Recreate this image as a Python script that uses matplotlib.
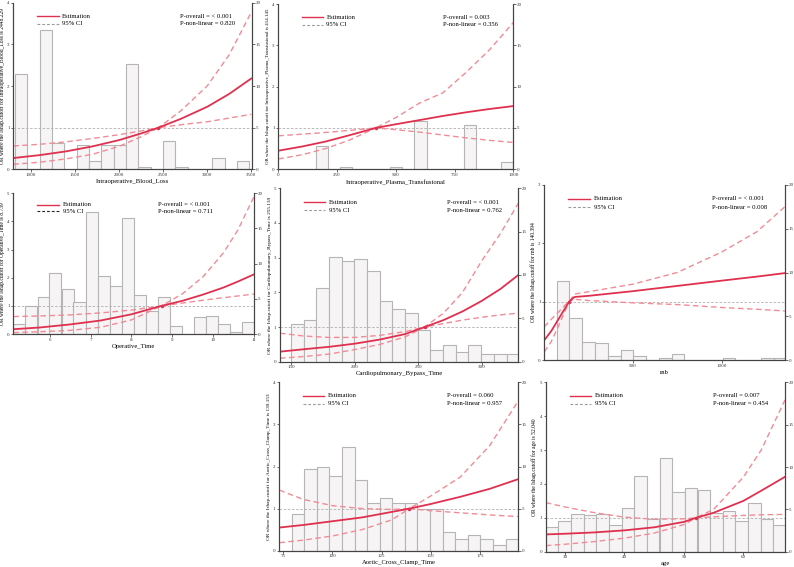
import matplotlib
matplotlib.use("Agg")
import matplotlib.pyplot as plt

plt.rcParams['font.family'] = ['Liberation Serif', 'DejaVu Serif']

# ---- Intraoperative_Blood_Loss ----
blood_bins = [890, 1170, 1310, 1590, 1730, 1870, 2010, 2150, 2290, 2570, 2710, 3130, 3410]
blood_counts = [11.4, 16.7, 3.2, 2.9, 1.0, 2.9, 2.9, 12.6, 0.3, 3.4, 0.3, 1.3, 1.0]
blood_x = [803, 1100, 1400, 1700, 2000, 2250, 2448.229, 2700, 3000, 3250, 3500]
blood_est = [0.27, 0.34, 0.43, 0.55, 0.70, 0.86, 1.0, 1.21, 1.50, 1.81, 2.18]
blood_lo = [0.12, 0.17, 0.25, 0.36, 0.55, 0.78, 1.0, 1.07, 1.14, 1.23, 1.32]
blood_hi = [0.56, 0.60, 0.66, 0.74, 0.83, 0.92, 1.0, 1.4, 2.0, 2.75, 3.77]

# ---- Intraoperative_Plasma_Transfusional ----
plasma_bins = [185, 289, 500, 605, 815, 974]
plasma_counts = [2.8, 0.25, 0.25, 5.9, 5.4, 0.9]
plasma_x = [0, 100, 200, 300, 414.145, 500, 600, 700, 800, 900, 1000]
plasma_est = [0.45, 0.55, 0.67, 0.82, 1.0, 1.09, 1.19, 1.29, 1.38, 1.46, 1.53]
plasma_lo = [0.25, 0.35, 0.50, 0.70, 1.0, 0.96, 0.90, 0.83, 0.76, 0.70, 0.65]
plasma_hi = [0.81, 0.85, 0.89, 0.94, 1.0, 1.25, 1.6, 1.85, 2.35, 2.9, 3.55]

# ---- Operative_Time ----
optime_bins = [5.26, 5.55, 5.85, 6.14, 6.44, 6.73, 7.03, 7.32, 7.62, 7.91,
               8.20, 8.50, 8.79, 9.09, 9.38, 9.68, 9.97, 10.27, 10.56, 10.86]
optime_counts = [1.4, 4.0, 5.2, 8.7, 6.4, 4.6, 17.3, 8.2, 6.8, 16.5,
                 5.5, 3.2, 5.3, 1.2, 0.0, 2.4, 2.6, 1.4, 0.3, 1.7]
optime_x = [5.11, 5.75, 6.5, 7.25, 8.0, 8.739, 9.25, 9.75, 10.25, 10.6, 11.0]
optime_est = [0.17, 0.23, 0.34, 0.48, 0.70, 1.0, 1.18, 1.40, 1.65, 1.86, 2.12]
optime_lo = [0.05, 0.08, 0.13, 0.24, 0.50, 1.0, 1.10, 1.20, 1.29, 1.35, 1.42]
optime_hi = [0.62, 0.64, 0.68, 0.75, 0.85, 1.0, 1.43, 2.03, 2.88, 3.68, 4.88]

# ---- Cardiopulmonary_Bypass_Time ----
cpb_bins = [154.7, 164.7, 174.7, 184.7, 194.7, 204.7, 214.7, 224.7, 234.7,
            244.7, 254.7, 264.7, 274.7, 284.7, 294.7, 304.7, 314.7, 324.7]
cpb_counts = [4.3, 4.8, 8.5, 12.1, 11.6, 11.8, 10.5, 7.0, 6.1,
              5.6, 3.7, 1.4, 1.9, 1.1, 1.9, 0.9, 0.9, 0.9]
cpb_x = [141, 160, 180, 200, 220, 240, 255.139, 270, 285, 300, 315, 329]
cpb_est = [0.29, 0.36, 0.43, 0.52, 0.64, 0.80, 1.0, 1.2, 1.45, 1.75, 2.1, 2.5]
cpb_lo = [0.10, 0.15, 0.22, 0.35, 0.50, 0.72, 1.0, 1.1, 1.2, 1.28, 1.35, 1.4]
cpb_hi = [0.82, 0.74, 0.70, 0.70, 0.76, 0.87, 1.0, 1.4, 2.0, 2.9, 3.7, 4.57]

# ---- rnb ----
rnb_bins = [106, 178, 250, 322, 394, 466, 538, 682, 754, 1042, 1258, 1330]
rnb_counts = [9.0, 4.8, 2.1, 1.9, 0.5, 1.1, 0.5, 0.2, 0.7, 0.2, 0.2, 0.2]
rnb_x = [0, 40, 80, 120, 140.394, 170, 250, 500, 750, 1000, 1200, 1358]
rnb_est = [0.34, 0.50, 0.70, 0.90, 1.0, 1.08, 1.10, 1.18, 1.27, 1.36, 1.43, 1.49]
rnb_lo = [0.14, 0.32, 0.58, 0.86, 1.0, 1.04, 1.02, 0.98, 0.95, 0.90, 0.87, 0.84]
rnb_hi = [0.57, 0.70, 0.82, 0.95, 1.0, 1.13, 1.17, 1.30, 1.50, 1.85, 2.2, 2.63]

# ---- Aortic_Cross_Clamp_Time ----
acc_bins = [82.4, 88.8, 95.2, 101.6, 108.0, 114.4, 120.8, 127.2, 133.6,
            140.0, 146.4, 152.8, 159.2, 165.6, 172.0, 178.4, 184.8, 191.2]
acc_counts = [4.3, 9.7, 9.9, 8.9, 12.3, 8.4, 5.7, 6.2, 5.7,
              5.7, 4.9, 4.9, 2.2, 1.4, 1.9, 1.4, 0.7, 1.4]
acc_x = [73, 85, 100, 115, 130, 139.153, 150, 165, 180, 194.5]
acc_est = [0.55, 0.61, 0.70, 0.79, 0.92, 1.0, 1.11, 1.28, 1.47, 1.7]
acc_lo = [0.19, 0.25, 0.35, 0.50, 0.73, 1.0, 0.95, 0.90, 0.85, 0.81]
acc_hi = [1.44, 1.22, 1.07, 1.0, 0.98, 1.0, 1.3, 1.75, 2.5, 3.56]

# ---- age ----
age_bins = [27.8, 29.9, 32.1, 34.2, 36.3, 38.5, 40.6, 42.7, 44.8, 47.0,
            49.1, 51.2, 53.4, 55.5, 57.6, 59.7, 61.9, 64.0, 66.1]
age_counts = [2.9, 3.6, 4.5, 4.3, 4.5, 3.1, 5.2, 8.9, 3.9, 11.1,
              7.0, 7.5, 7.3, 4.6, 4.8, 3.6, 5.8, 3.9, 3.1]
age_x = [26.75, 30, 35, 40, 45, 50, 52.04, 55, 60, 63, 67]
age_est = [0.51, 0.53, 0.57, 0.63, 0.72, 0.88, 1.0, 1.15, 1.5, 1.8, 2.21]
age_lo = [0.18, 0.22, 0.30, 0.40, 0.55, 0.80, 1.0, 1.03, 1.07, 1.09, 1.1]
age_hi = [1.45, 1.32, 1.15, 1.02, 0.96, 0.97, 1.0, 1.25, 2.2, 3.0, 4.48]

RED = '#e0304f'
PINK = '#f28b96'
W, H = 794, 567

fig = plt.figure(figsize=(7.94, 5.67), dpi=100)


def draw_panel(box, bins, counts, bw, xs, est, lo, hi, name, cutoff,
               xlim, xticks, ymax, p1, p2, p_x=0.70, ci_key='#9a9a9a', ylab_size=4.0):
    x0, y0, x1, y1 = box
    ax = fig.add_axes([x0 / W, 1 - y1 / H, (x1 - x0) / W, (y1 - y0) / H])
    ax2 = ax.twinx()
    ax2.bar(bins, counts, width=bw, color='#f7f4f5', edgecolor='#b5b5b5', linewidth=0.8)
    ax2.set_ylim(0, 20)
    ax2.set_yticks([0, 5, 10, 15, 20])
    ax.set_zorder(ax2.get_zorder() + 1)
    ax.patch.set_visible(False)

    ax.axhline(1, color='#b0b0b0', ls='--', lw=0.6, dashes=(3, 2))
    ax.plot(xs, lo, color=PINK, ls='--', lw=1.0, dashes=(4, 2.5))
    ax.plot(xs, hi, color=PINK, ls='--', lw=1.0, dashes=(4, 2.5))
    ax.plot(xs, est, color=RED, lw=1.3)
    ax.plot([float(cutoff)], [1], 'o', color=RED, ms=1.5)

    ax.set_xlim(*xlim)
    ax.set_xticks(xticks)
    ax.set_ylim(0, ymax)
    ax.set_yticks(range(ymax + 1))
    ax.set_xlabel(name, fontsize=4.8, labelpad=1.5)
    ax.set_ylabel(f"OR where the Ishap.cutoff for {name} is {cutoff}", fontsize=ylab_size, labelpad=1.5)

    for a in (ax, ax2):
        a.tick_params(labelsize=3.6, length=1.8, width=0.5, pad=0.8, colors='#333333')
        a.spines['top'].set_visible(False)
        for s in ('left', 'right', 'bottom'):
            a.spines[s].set_color('#444444')
            a.spines[s].set_linewidth(0.8)

    # legend and p-values
    ax.plot([0.10, 0.19], [0.92, 0.92], color=RED, lw=1.0, transform=ax.transAxes, clip_on=False)
    ax.plot([0.10, 0.19], [0.873, 0.873], color=ci_key, lw=0.8, ls='--', dashes=(2.5, 1.8),
            transform=ax.transAxes, clip_on=False)
    ax.text(0.205, 0.92, "Estimation", fontsize=4.8, va='center', transform=ax.transAxes)
    ax.text(0.205, 0.873, "95% CI", fontsize=4.8, va='center', transform=ax.transAxes)
    ax.text(p_x, 0.92, f"P-overall = {p1}", fontsize=4.8, va='center', transform=ax.transAxes)
    ax.text(p_x, 0.873, f"P-non-linear = {p2}", fontsize=4.8, va='center', transform=ax.transAxes)


draw_panel((13.3, 2.7, 251.7, 169.3), blood_bins, blood_counts, 140,
           blood_x, blood_est, blood_lo, blood_hi, "Intraoperative_Blood_Loss", "2448.229",
           (803, 3505), [1000, 1500, 2000, 2500, 3000, 3500], 4, "< 0.001", "0.820")
draw_panel((278.3, 4, 513.3, 169.3), plasma_bins, plasma_counts, 53,
           plasma_x, plasma_est, plasma_lo, plasma_hi, "Intraoperative_Plasma_Transfusional", "414.145",
           (0, 1000), [0, 250, 500, 750, 1000], 4, "0.003", "0.356", ylab_size=3.5)
draw_panel((13.3, 193.3, 254, 334), optime_bins, optime_counts, 0.2946,
           optime_x, optime_est, optime_lo, optime_hi, "Operative_Time", "8.739",
           (5.11, 11.0), [6, 7, 8, 9, 10, 11], 5, "< 0.001", "0.711", p_x=0.60, ci_key='#222222')
draw_panel((280, 188.3, 518.3, 361.7), cpb_bins, cpb_counts, 10,
           cpb_x, cpb_est, cpb_lo, cpb_hi, "Cardiopulmonary_Bypass_Time", "255.139",
           (141, 329), [150, 200, 250, 300], 5, "< 0.001", "0.762", ylab_size=3.8)
draw_panel((544.3, 185, 785, 360), rnb_bins, rnb_counts, 72,
           rnb_x, rnb_est, rnb_lo, rnb_hi, "rnb", "140.394",
           (0, 1358), [500, 1000], 3, "< 0.001", "0.008", p_x=0.695)
draw_panel((279, 382.3, 518.3, 550.7), acc_bins, acc_counts, 6.4,
           acc_x, acc_est, acc_lo, acc_hi, "Aortic_Cross_Clamp_Time", "139.153",
           (72.8, 194.5), [75, 100, 125, 150, 175], 4, "0.060", "0.957", ylab_size=3.8)
draw_panel((545.7, 382.3, 785, 551.7), age_bins, age_counts, 2.13,
           age_x, age_est, age_lo, age_hi, "age", "52.040",
           (26.75, 67.0), [30, 40, 50, 60], 5, "0.007", "0.454")

fig.savefig("out.png", dpi=100)
